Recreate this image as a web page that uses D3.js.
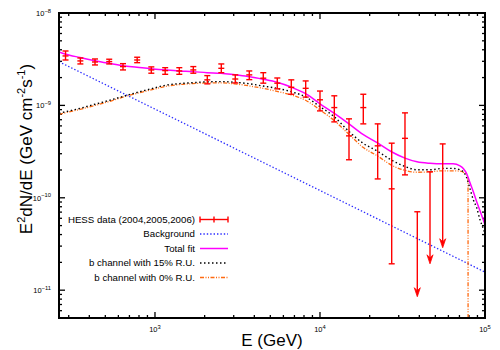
<!DOCTYPE html>
<html><head><meta charset="utf-8">
<script src="https://cdn.jsdelivr.net/npm/d3@7/dist/d3.min.js"></script>
<style>body{margin:0;background:#fff} svg{display:block;font-family:"Liberation Sans",Arial,Helvetica,sans-serif}</style>
</head><body><svg id="c" width="500" height="350"></svg>
<script>
// HESS data points (GeV, GeV cm^-2 s^-1)
const hessE  = [287, 353, 433, 528, 640, 780, 950, 1153, 1404, 1707, 2075, 2523, 3066, 3728, 4532, 5511, 6700, 8190, 10000, 12210, 14990, 18300, 22370, 27200, 32740];
const hessF  = [3.43e-9, 3.03e-9, 2.95e-9, 2.98e-9, 2.63e-9, 3.10e-9, 2.42e-9, 2.38e-9, 2.36e-9, 2.42e-9, 1.89e-9, 2.52e-9, 1.93e-9, 2.14e-9, 1.97e-9, 1.74e-9, 1.57e-9, 1.53e-9, 1.15e-9, 9.47e-10, 4.68e-10, 9.47e-10, 3.65e-10, 1.25e-10, 4.40e-10];
const hessLo = [3.10e-9, 2.81e-9, 2.74e-9, 2.81e-9, 2.42e-9, 2.90e-9, 2.23e-9, 2.17e-9, 2.17e-9, 2.23e-9, 1.71e-9, 2.26e-9, 1.75e-9, 1.90e-9, 1.74e-9, 1.51e-9, 1.32e-9, 1.23e-9, 8.72e-10, 6.63e-10, 2.58e-10, 6.31e-10, 1.60e-10, 1.93e-11, 1.77e-10];
const hessHi = [3.88e-9, 3.26e-9, 3.18e-9, 3.16e-9, 2.83e-9, 3.32e-9, 2.61e-9, 2.56e-9, 2.56e-9, 2.63e-9, 2.10e-9, 2.81e-9, 2.14e-9, 2.36e-9, 2.26e-9, 1.98e-9, 1.89e-9, 1.84e-9, 1.43e-9, 1.27e-9, 7.15e-10, 1.32e-9, 6.31e-10, 3.90e-10, 8.30e-10];
// upper limits
const ulE   = [38880, 46420, 55410];
const ulF   = [7.06e-11, 1.91e-10, 3.83e-10];
const ulTip = [8.5e-12, 1.93e-11, 2.88e-11];

// model curves
const curveE = [262, 285, 351, 433, 526, 640, 778, 946, 1150, 1398, 1699, 2066, 2512, 3053, 3765, 4512, 5488, 6673, 8226, 10000, 12160, 14990, 18220, 22460, 26940, 32740, 38720, 46420, 55660, 64000, 70550, 73880, 77470, 81130, 84960, 89060, 93260, 97660, 100000];
const totalFit = [3.79e-9, 3.60e-9, 3.30e-9, 3.05e-9, 2.86e-9, 2.69e-9, 2.59e-9, 2.49e-9, 2.42e-9, 2.36e-9, 2.32e-9, 2.26e-9, 2.23e-9, 2.14e-9, 2.04e-9, 1.92e-9, 1.78e-9, 1.58e-9, 1.33e-9, 1.04e-9, 8.24e-10, 6.31e-10, 4.86e-10, 3.90e-10, 3.17e-10, 2.69e-10, 2.45e-10, 2.36e-10, 2.33e-10, 2.33e-10, 2.22e-10, 2.08e-10, 1.82e-10, 1.45e-10, 1.16e-10, 9.05e-11, 7.24e-11, 5.78e-11, 5.11e-11];
const bChan15 = [8.20e-10, 8.51e-10, 9.28e-10, 1.03e-9, 1.13e-9, 1.25e-9, 1.38e-9, 1.51e-9, 1.65e-9, 1.72e-9, 1.76e-9, 1.80e-9, 1.81e-9, 1.78e-9, 1.71e-9, 1.62e-9, 1.53e-9, 1.41e-9, 1.23e-9, 9.70e-10, 7.57e-10, 5.21e-10, 3.90e-10, 3.17e-10, 2.58e-10, 2.18e-10, 2.01e-10, 2.01e-10, 2.08e-10, 2.08e-10, 2.01e-10, 1.91e-10, 1.65e-10, 1.25e-10, 9.51e-11, 7.80e-11, 5.78e-11, 4.62e-11, 4.08e-11];
const bChan0E = [262, 285, 351, 433, 526, 640, 778, 946, 1150, 1398, 1699, 2066, 2512, 3053, 3765, 4512, 5488, 6673, 8226, 10000, 12160, 14990, 18220, 22460, 26940, 32740, 38720, 46420, 55660, 64000, 70550, 73880, 77470, 78900, 79000];
const bChan0 = [7.99e-10, 8.30e-10, 9.05e-10, 1.00e-9, 1.10e-9, 1.23e-9, 1.35e-9, 1.47e-9, 1.60e-9, 1.68e-9, 1.72e-9, 1.75e-9, 1.75e-9, 1.71e-9, 1.62e-9, 1.53e-9, 1.42e-9, 1.30e-9, 1.13e-9, 8.94e-10, 6.88e-10, 4.86e-10, 3.52e-10, 2.82e-10, 2.27e-10, 1.98e-10, 1.89e-10, 1.91e-10, 1.96e-10, 1.96e-10, 1.94e-10, 1.89e-10, 1.77e-10, 1.65e-10, 1e-13];
const bgE = [262, 1000, 10000, 100000];
const bgF = [2.97e-9, 9.12e-10, 1.20e-10, 1.57e-11];

const xTickExps = [3, 4, 5];
const yTickExps = [-11, -10, -9, -8];
const legendLabels = ["HESS data (2004,2005,2006)", "Background", "Total fit", "b channel with 15% R.U.", "b channel with 0% R.U."];

const L = 59, R = 485, T = 13, B = 318;
const x = d3.scaleLog().domain([262, 1e5]).range([L, R]);
const y = d3.scaleLog().domain([5e-12, 1e-8]).range([B, T]);
const svg = d3.select("#c");

svg.append("defs").append("clipPath").attr("id", "clip")
  .append("rect").attr("x", L).attr("y", T).attr("width", R - L).attr("height", B - T);

// ticks
const xMinor = x.ticks().filter(v => !xTickExps.some(e => Math.abs(Math.log10(v) - e) < 1e-9));
const yMinor = y.ticks().filter(v => !yTickExps.some(e => Math.abs(Math.log10(v) - e) < 1e-9));
const xMajor = xTickExps.map(e => Math.pow(10, e));
const yMajor = yTickExps.map(e => Math.pow(10, e));
const tk = svg.append("g").attr("stroke", "#000").attr("stroke-width", 1.3);
function xt(vals, len) {
  vals.forEach(v => {
    tk.append("line").attr("x1", x(v)).attr("x2", x(v)).attr("y1", B).attr("y2", B - len);
    tk.append("line").attr("x1", x(v)).attr("x2", x(v)).attr("y1", T).attr("y2", T + len);
  });
}
function yt(vals, len) {
  vals.forEach(v => {
    tk.append("line").attr("y1", y(v)).attr("y2", y(v)).attr("x1", L).attr("x2", L + len);
    tk.append("line").attr("y1", y(v)).attr("y2", y(v)).attr("x1", R).attr("x2", R - len);
  });
}
xt(xMinor, 3); xt(xMajor, 6); yt(yMinor, 3); yt(yMajor, 6);

// tick labels
xTickExps.forEach(e => {
  const t = svg.append("text").attr("x", x(Math.pow(10, e))).attr("y", 332)
    .attr("text-anchor", "middle").attr("font-size", 7.5).attr("fill", "#000");
  t.append("tspan").text("10");
  t.append("tspan").attr("dy", -3.5).attr("font-size", 5.8).text(e);
});
yTickExps.forEach(e => {
  const t = svg.append("text").attr("x", 51).attr("y", y(Math.pow(10, e)) + 3)
    .attr("text-anchor", "end").attr("font-size", 7.5).attr("fill", "#000");
  t.append("tspan").text("10");
  t.append("tspan").attr("dy", -3.5).attr("font-size", 5.8).text("\u2212" + Math.abs(e));
});

// axis titles
svg.append("text").attr("x", 272).attr("y", 346).attr("text-anchor", "middle")
  .attr("font-size", 17).text("E (GeV)");
const yl = svg.append("text").attr("transform", "translate(32,149) rotate(-90)")
  .attr("text-anchor", "middle").attr("font-size", 17);
yl.append("tspan").text("E");
yl.append("tspan").attr("dy", -7).attr("font-size", 11).text("2");
yl.append("tspan").attr("dy", 7).text("dN/dE (GeV cm");
yl.append("tspan").attr("dy", -7).attr("font-size", 11).text("-2");
yl.append("tspan").attr("dy", 7).text("s");
yl.append("tspan").attr("dy", -7).attr("font-size", 11).text("-1");
yl.append("tspan").attr("dy", 7).text(")");

// curves
const plot = svg.append("g").attr("clip-path", "url(#clip)");
const line = d3.line().x(d => x(d[0])).y(d => y(d[1])).curve(d3.curveMonotoneX);
const styles = {
  bg:  {stroke: "#2a2aff", w: 1.3, dash: "1.4,2"},
  fit: {stroke: "#ff00ff", w: 1.5, dash: null},
  b15: {stroke: "#000000", w: 1.4, dash: "1.5,2.5"},
  b0:  {stroke: "#ff6a10", w: 1.3, dash: "4,1.5,1,1.5,1,1.5"}
};
function draw(xs, ys, s) {
  plot.append("path").datum(xs.map((v, i) => [v, ys[i]])).attr("d", line)
    .attr("fill", "none").attr("stroke", s.stroke).attr("stroke-width", s.w)
    .attr("stroke-dasharray", s.dash);
}
draw(bgE, bgF, styles.bg);
draw(bChan0E, bChan0, styles.b0);
draw(curveE, bChan15, styles.b15);
draw(curveE, totalFit, styles.fit);

// data points
const red = "#ff0000";
const dg = plot.append("g").attr("stroke", red).attr("stroke-width", 1.4);
hessE.forEach((e, i) => {
  const cx = x(e);
  dg.append("line").attr("x1", cx).attr("x2", cx).attr("y1", y(hessHi[i])).attr("y2", y(hessLo[i]));
  [hessHi[i], hessLo[i], hessF[i]].forEach(v =>
    dg.append("line").attr("x1", cx - 3).attr("x2", cx + 3).attr("y1", y(v)).attr("y2", y(v)));
});
ulE.forEach((e, i) => {
  const cx = x(e), y0 = y(ulF[i]), y1 = y(ulTip[i]);
  dg.append("line").attr("x1", cx).attr("x2", cx).attr("y1", y0).attr("y2", y1 - 4);
  dg.append("line").attr("x1", cx - 3).attr("x2", cx + 3).attr("y1", y0).attr("y2", y0);
  plot.append("path").attr("d", `M${cx},${y1}L${cx - 3},${y1 - 9}L${cx},${y1 - 6}L${cx + 3},${y1 - 9}Z`)
    .attr("fill", red).attr("stroke", red).attr("stroke-width", 0.8);
});

// frame
svg.append("rect").attr("x", L).attr("y", T).attr("width", R - L).attr("height", B - T)
  .attr("fill", "none").attr("stroke", "#000").attr("stroke-width", 2);

// legend
const legY = [219.5, 234, 248.5, 263, 277.5];
const lg = svg.append("g");
legendLabels.forEach((lab, i) => {
  lg.append("text").attr("x", 195).attr("y", legY[i] + 3.4).attr("text-anchor", "end")
    .attr("font-size", 9.7).attr("fill", "#000").text(lab);
});
const sx0 = 200, sx1 = 228;
const lh = lg.append("g").attr("stroke", red).attr("stroke-width", 1.4);
lh.append("line").attr("x1", sx0).attr("x2", sx1).attr("y1", legY[0]).attr("y2", legY[0]);
[sx0, (sx0 + sx1) / 2, sx1].forEach(v =>
  lh.append("line").attr("x1", v).attr("x2", v).attr("y1", legY[0] - 3).attr("y2", legY[0] + 3));
[styles.bg, styles.fit, styles.b15, styles.b0].forEach((s, k) => {
  lg.append("line").attr("x1", sx0).attr("x2", sx1).attr("y1", legY[k + 1]).attr("y2", legY[k + 1])
    .attr("stroke", s.stroke).attr("stroke-width", s.w).attr("stroke-dasharray", s.dash);
});
</script></body></html>
